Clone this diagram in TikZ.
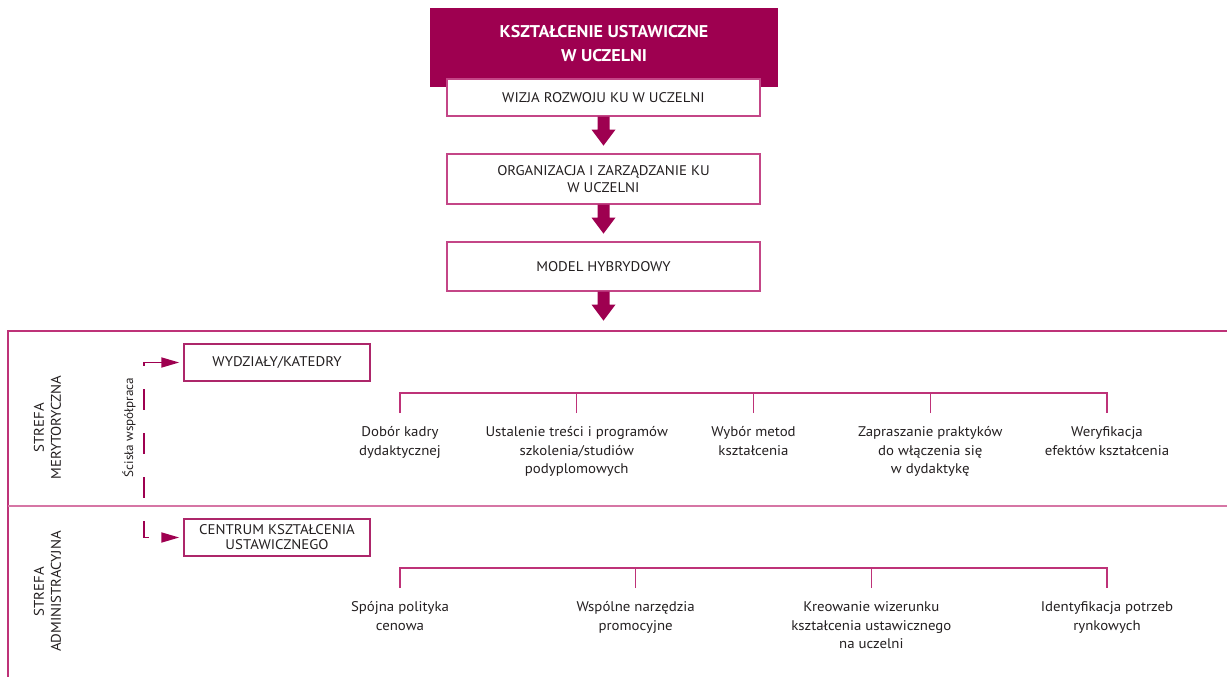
\documentclass[tikz,border=0pt]{standalone}
\usepackage{fontspec}
\setmainfont{PT Sans}[FakeStretch=1.06]
\usetikzlibrary{arrows.meta,calc}
\definecolor{crimson}{RGB}{158,0,80}
\definecolor{rim}{RGB}{196,70,135}
\definecolor{rule}{RGB}{190,50,120}
\definecolor{divide}{RGB}{214,118,165}
\definecolor{ink}{RGB}{35,31,32}

% solid block arrow pointing down from a node anchor
\newcommand\kudown[1]{%
  \fill[crimson] ($(#1)+(-6,0)$) -- ++(12,0) -- ++(0,13) -- ++(6,0)
    -- ++(-12,16) -- ++(-12,-16) -- ++(6,0) -- cycle;}

\begin{document}
\begin{tikzpicture}[x=1pt,y=-1pt,
  every node/.style={text=ink},
  stage/.style={draw=rim, line width=1.3pt, fill=white, minimum width=313pt,
    inner sep=0pt, align=center, font=\fontsize{14}{17}\selectfont},
  unit/.style={draw=crimson!85, line width=1.5pt, minimum width=186pt,
    minimum height=37pt, inner sep=0pt, align=center,
    font=\fontsize{14}{15}\selectfont},
  leaf/.style={anchor=north, inner xsep=0pt, inner ysep=13.5pt, align=center,
    font=\fontsize{14}{18.5}\selectfont},
  tree/.style={draw=rule, line width=1.3pt},
  zone/.style={rotate=90, align=center, font=\fontsize{14}{17}\selectfont},
  coop/.style={draw=crimson, line width=1.8pt, dash pattern=on 21pt off 23pt,
    {Triangle[length=18pt,width=10pt]}-{Triangle[length=18pt,width=10pt]}},
]
\useasboundingbox (0,0) rectangle (1227,677);

% zone frame
\draw[rule, line width=1.3pt] (1227,331) -- (8,331) -- (8,677);
\draw[divide, line width=1.8pt] (8,506) -- (1227,506);

% heading
\node[fill=crimson, minimum width=348pt, minimum height=79pt, inner sep=0pt] (head) at (604,47.5) {};
\node[text=white, font=\bfseries\fontsize{17}{24}\selectfont, align=center] (headtxt) at (604,43.5)
  {KSZTAŁCENIE USTAWICZNE\\W UCZELNI};

% main chain
\node[stage, minimum height=37pt] (vision) at (603.5,97.5) {WIZJA ROZWOJU KU W UCZELNI};
\node[stage, minimum height=50pt] (org) at (603.5,179) {ORGANIZACJA I ZARZĄDZANIE KU\\W UCZELNI};
\node[stage, minimum height=49pt] (model) at (603.5,266.5) {MODEL HYBRYDOWY};
\kudown{vision.south}
\kudown{org.south}
\kudown{model.south}

% zone labels
\node[zone] (merit) at (47.5,427.5) {STREFA\\MERYTORYCZNA};
\node[zone] (admin) at (47.5,591.5) {STREFA\\ADMINISTRACYJNA};

% units and their cooperation link
\node[unit] (fac) at (277,362.5) {WYDZIAŁY/KATEDRY};
\node[unit] (cku) at (277,537.5) {CENTRUM KSZTAŁCENIA\\USTAWICZNEGO};
\coordinate (facIn) at ($(fac.west)+(-4,0)$);
\coordinate (ckuIn) at ($(cku.west)+(-4,0)$);
\draw[coop] (facIn) -- ++(-35,0) |- (ckuIn);
\node[zone, font=\fontsize{12.4}{16}\selectfont] (cooptxt) at (129,427.5) {Ścisła współpraca};

% substantive tasks
\node[leaf] (m1) at (400,413) {Dobór kadry\\dydaktycznej};
\node[leaf] (m2) at (576.75,413) {Ustalenie treści i programów\\szkolenia/studiów\\podyplomowych};
\node[leaf] (m3) at (753.5,413) {Wybór metod\\kształcenia};
\node[leaf] (m4) at (930.25,413) {Zapraszanie praktyków\\do włączenia się\\w dydaktykę};
\node[leaf] (m5) at (1107,413) {Weryfikacja\\efektów kształcenia};
\draw[tree] (m1.north) -- ++(0,-20) -| (m5.north);
\foreach \n in {m2,m3,m4} \draw[tree] (\n.north) -- ++(0,-20);

% administrative tasks
\node[leaf] (a1) at (400,588) {Spójna polityka\\cenowa};
\node[leaf] (a2) at (635.67,588) {Wspólne narzędzia\\promocyjne};
\node[leaf] (a3) at (871.33,588) {Kreowanie wizerunku\\kształcenia ustawicznego\\na uczelni};
\node[leaf] (a4) at (1107,588) {Identyfikacja potrzeb\\rynkowych};
\draw[tree] (a1.north) -- ++(0,-20) -| (a4.north);
\foreach \n in {a2,a3} \draw[tree] (\n.north) -- ++(0,-20);
\end{tikzpicture}
\end{document}
